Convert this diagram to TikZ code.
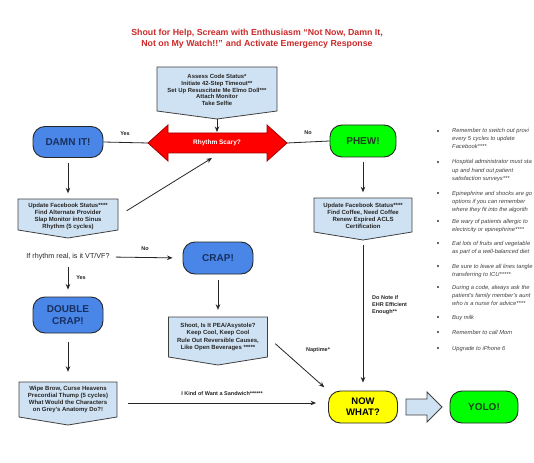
\documentclass[tikz,border=0pt]{standalone}
\usepackage{fontspec}
\setmainfont{Liberation Sans}
\usetikzlibrary{arrows.meta,calc}
\definecolor{boxblue}{HTML}{4A86E8}
\definecolor{navytxt}{HTML}{17305E}
\definecolor{greentxt}{HTML}{1E3F1E}
\definecolor{pentfill}{HTML}{CFE2F3}
\definecolor{titlered}{HTML}{CC2A2A}
\definecolor{redfill}{HTML}{FF0000}
\definecolor{redline}{HTML}{A00000}
\definecolor{limegreen}{HTML}{00FF00}
\definecolor{brightyellow}{HTML}{FFFF00}
\tikzset{
  rr/.style={draw=black!85, line width=0.9pt, rounded corners=12pt, minimum width=70pt,
    minimum height=32pt, align=center, inner sep=0pt, font=\fontsize{10}{11}\selectfont\bfseries},
  bluebox/.style={rr, fill=boxblue, text=navytxt},
  greenbox/.style={rr, fill=limegreen, text=greentxt},
  yellowbox/.style={rr, fill=brightyellow, text=black},
  pentline/.style={draw=black!75, fill=pentfill, line width=0.8pt},
  penttext/.style={align=center, inner sep=0pt, font=\fontsize{6}{7}\selectfont\bfseries, text=black!85},
  lbl/.style={font=\fontsize{5.5}{6.5}\selectfont\bfseries, inner sep=0pt, text=black!85},
  conn/.style={draw=black!85, line width=0.8pt},
  arr/.style={conn, -{Stealth[length=5.5pt,width=4.5pt]}},
  bul/.style={font=\fontsize{5.8}{8}\selectfont\itshape, text=black!75, anchor=base west, inner sep=0pt},
  titletext/.style={align=center, text=titlered, font=\fontsize{8.8}{11}\selectfont\bfseries},
}
% cx, top, width, body height, point depth
\newcommand{\pentpath}[5]{%
  \filldraw[pentline] ({#1-#3/2},#2) -- ({#1+#3/2},#2) -- ({#1+#3/2},{#2+#4})
    -- (#1,{#2+#4+#5}) -- ({#1-#3/2},{#2+#4}) -- cycle;}
\begin{document}
\begin{tikzpicture}[x=1pt,y=-1pt]
\useasboundingbox (0,0) rectangle (534,462);
\fill[white] (0,0) rectangle (534,462);

% title
\node[titletext] (title) at (257,38.5) {Shout for Help, Scream with Enthusiasm “Not Now, Damn It,\\Not on My Watch!!” and Activate Emergency Response};

% Assess box
\pentpath{217}{67}{120}{44}{8}
\node[penttext, font=\fontsize{5.9}{6.6}\selectfont\bfseries, minimum width=120pt, minimum height=44pt] (p0) at (217,90) {Assess Code Status*\\Initiate 42-Step Timeout**\\Set Up Resuscitate Me Elmo Doll***\\Attach Monitor\\Take Selfie};
\coordinate (p0tip) at (217,119);

% Rhythm scary double arrow
\filldraw[fill=redfill, draw=redline, line width=0.8pt]
  (148,143) -- (168,125) -- (168,133) -- (267,133) -- (267,125) -- (287,143)
  -- (267,161) -- (267,153) -- (168,153) -- (168,161) -- cycle;
\node[font=\fontsize{6.5}{7.5}\selectfont\bfseries, text=white, inner sep=0pt] (rhythm) at (217,143) {Rhythm Scary?};
\coordinate (rL) at (148,143);
\coordinate (rR) at (287,143);
\coordinate (rtop) at (217,133);
\coordinate (rbot) at (212,158);

% rounded boxes
\node[bluebox, minimum height=31pt] (damn) at (68,142) {DAMN IT!};
\node[greenbox, minimum width=66pt] (phew) at (363,141) {PHEW!};
\node[bluebox] (crap) at (218,258) {CRAP!};
\node[bluebox, minimum height=36pt, font=\fontsize{10}{11.5}\selectfont\bfseries] (dcrap) at (68,315) {DOUBLE\\CRAP!};
\node[yellowbox, minimum width=69pt, font=\fontsize{9.5}{11}\selectfont\bfseries] (now) at (363,407) {NOW\\WHAT?};
\node[greenbox, minimum width=68pt] (yolo) at (484,407) {YOLO!};

% pentagons
\pentpath{68}{199}{100}{31}{8}
\node[penttext, minimum width=100pt, minimum height=31pt] (p1) at (68,216) {Update Facebook Status****\\Find Alternate Provider\\Slap Monitor into Sinus\\Rhythm (5 cycles)};
\pentpath{218}{317}{99}{40}{8}
\node[penttext, minimum width=99pt, minimum height=40pt, font=\fontsize{6}{7.3}\selectfont\bfseries] (p2) at (218,337) {Shoot, Is It PEA/Asystole?\\Keep Cool, Keep Cool\\Rule Out Reversible Causes,\\Like Open Beverages *****};
\pentpath{68}{382}{98}{35}{8}
\node[penttext, minimum width=98pt, minimum height=35pt] (p3) at (68,399.5) {Wipe Brow, Curse Heavens\\Precordial Thump (5 cycles)\\What Would the Characters\\on Grey's Anatomy Do?!};
\pentpath{363}{198}{98}{34}{8}
\node[penttext, minimum width=98pt, minimum height=34pt] (p4) at (363,215.5) {Update Facebook Status****\\Find Coffee, Need Coffee\\Renew Expired ACLS\\Certification};
\coordinate (p4tip) at (363,240);

% question text
\node[font=\fontsize{7.2}{8}\selectfont, inner sep=0pt, text=black!85] (q) at (68,257) {If rhythm real, is it VT/VF?};

% block arrow
\filldraw[fill=pentfill, draw=black!75, line width=0.8pt]
  (406,399) -- (427,399) -- (427,392) -- (442,407) -- (427,422) -- (427,415) -- (406,415) -- cycle;

% connectors
\draw[arr, shorten >=1pt] (p0tip) -- (rtop);
\draw[conn] (damn.east) -- (rL);
\draw[conn] (rR) -- (phew.west);
\node[lbl] (lyes1) at (125,134) {Yes};
\node[lbl] (lno1) at (308,133) {No};
\draw[arr, shorten <=5pt, shorten >=7pt] (damn.south) -- (p1.north);
\draw[arr, shorten <=10pt] (p1.east) -- (rbot);
\draw[arr, shorten <=6pt, shorten >=10pt] (q.east) -- (crap.west);
\node[lbl] (lno2) at (145,249) {No};
\draw[arr, shorten <=6pt, shorten >=7pt] (q.south) -- (dcrap.north);
\node[lbl] (lyes2) at (81,278) {Yes};
\draw[arr, shorten <=6pt, shorten >=7pt] (crap.south) -- (p2.north);
\draw[arr, shorten <=10pt, shorten >=5pt] (p2.east) -- (now.north west);
\node[lbl] (lnap) at (318,350) {Naptime*};
\draw[arr, shorten <=9pt, shorten >=10pt] (dcrap.south) -- (p3.north);
\coordinate (sandend) at ([yshift=4pt]now.west);
\draw[arr, shorten <=11pt, shorten >=12pt] (p3.east |- sandend) -- (sandend);
\node[lbl] (lsand) at (222,394) {I Kind of Want a Sandwich******};
\draw[arr, shorten <=5pt, shorten >=6pt] (phew.south) -- (p4.north);
\draw[arr, shorten <=5pt, shorten >=8pt] (p4tip) -- (now.north);
\node[lbl, align=left, anchor=north west, font=\fontsize{5.5}{7}\selectfont\bfseries] (lehr) at (372,295) {Do Note if\\EHR Efficient\\Enough**};

% bullet list (words cut at the right edge as in the reference)
\foreach \y in {131,162,193,221,243,266,287,317,332,348}
  \fill[black!80] (438,\y) circle (1.1pt);
\foreach \y/\t [count=\i] in {
  133/{Remember to switch out provi},
  141/{every 5 cycles to update},
  149/{Facebook****},
  164/{Hospital administrator must sta},
  172/{up and hand out patient},
  180/{satisfaction surveys***},
  195/{Epinephrine and shocks are go},
  203/{options if you can remember},
  211/{where they fit into the algorith},
  223/{Be wary of patients allergic to},
  231/{electricity or epinephrine****},
  245/{Eat lots of fruits and vegetable},
  253/{as part of a well-balanced diet},
  268/{Be sure to leave all lines tangle},
  276/{transferring to ICU*****},
  289/{During a code, always ask the},
  297/{patient's family member's aunt},
  305/{who is a nurse for advice****},
  319/{Buy milk},
  334/{Remember to call Mom},
  350/{Upgrade to iPhone 6}}
  \node[bul] (b\i) at (452,\y) {\t};
\end{tikzpicture}
\end{document}
